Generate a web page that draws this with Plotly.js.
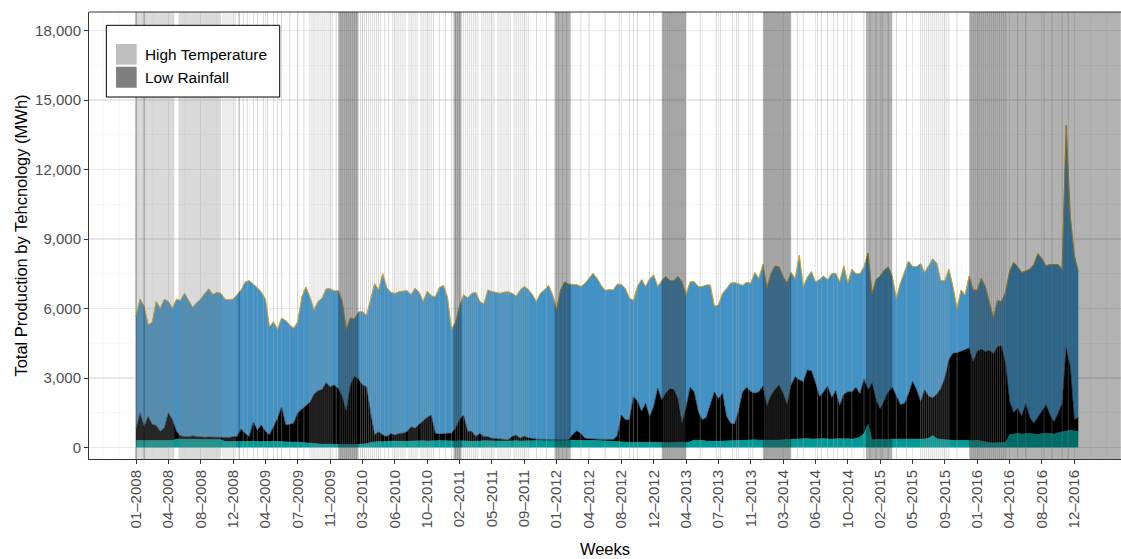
<!DOCTYPE html>
<html><head><meta charset="utf-8">
<script src="https://cdn.plot.ly/plotly-3.0.1.min.js"></script>
<style>html,body{margin:0;padding:0;background:#fff}#chart{width:1121px;height:559px}</style>
</head><body><div id="chart"></div>
<script>
// x-axis tick labels (one every 16 weeks; 52 weeks per year, week 0 = first week of 2008)
const tickLabels = ["01–2008","04–2008","08–2008","12–2008","04–2009","07–2009","11–2009","03–2010","06–2010","10–2010","02–2011","05–2011","09–2011","01–2012","04–2012","08–2012","12–2012","04–2013","07–2013","11–2013","03–2014","06–2014","10–2014","02–2015","05–2015","09–2015","01–2016","04–2016","08–2016","12–2016"];
const tickWeeks = [0,16,32,48,64,80,96,112,128,144,160,176,192,208,224,240,256,272,288,304,320,336,352,368,384,400,416,432,448,464];

// Stacked levels (MWh), sampled every second week (weeks 0,2,4,...)
// top of the whole stack (hydro on top of thermal on top of minor plants)
const totalLevel = [
5650,6400,6100,5300,5400,6300,6000,6400,6300,6000,
6400,6350,6650,6350,6050,6250,6400,6650,6850,6600,
6700,6650,6400,6380,6400,6600,6800,7150,7200,7050,
6900,6700,6400,5200,5430,5100,5590,5480,5290,5150,
5430,6500,6930,6500,5950,6300,6450,6850,6850,6760,
6770,6300,5100,5600,5550,5850,5870,5700,6400,7080,
6800,7500,6900,6700,6650,6720,6750,6770,6600,6870,
6700,6300,6750,6550,6500,6900,7000,6500,5100,5400,
6100,6600,6450,6650,6700,6300,6200,6800,6730,6700,
6655,6700,6720,6655,6530,6800,6950,6820,6600,6300,
6655,6800,7000,6600,5950,6820,7150,7050,7050,7030,
6950,7080,7300,7520,7300,7000,6780,6820,6800,7050,
7040,6850,6450,6350,6950,7250,6950,7280,7450,6950,
7200,7380,7200,7200,7380,7150,6600,7150,7160,6950,
6950,7015,7015,6100,6150,6650,6850,7090,7120,7050,
7000,7130,7100,7550,7300,7900,6900,7500,7830,7800,
7374,7100,7550,7300,8300,6950,7350,7600,7150,7250,
7400,7240,7500,7520,7150,7850,7100,7700,7500,7500,
7800,8400,6655,7250,7400,7650,7800,7374,6450,7087,
7550,8050,7810,7806,7940,7550,7850,8150,7950,7200,
7200,7700,6950,6000,6800,6583,7400,6800,6800,7300,
6950,6250,5600,6350,6300,6700,7600,8000,7800,7550,
7620,7700,7900,8370,8150,7850,7900,7900,7900,7700,
13900,10000,8300,7600];
// top of thermal (thermal stacked on minor plants)
const thermalLevel = [
800,1500,900,1350,1000,950,700,850,1500,1200,
700,500,480,470,500,470,460,440,450,440,
460,450,420,430,470,480,800,600,480,1100,
750,970,700,550,900,1260,1750,971,1000,1050,
1500,1650,1780,1950,2300,2450,2500,2800,2626,2700,
2550,2200,1550,2700,3080,2950,2700,2620,1500,550,
680,540,470,600,540,600,620,680,899,830,
1000,1150,1300,1400,600,580,611,611,611,830,
1200,1400,700,700,480,600,480,470,400,380,
360,350,340,470,540,400,500,420,380,360,
350,340,330,330,325,325,330,340,560,720,
600,400,380,360,350,350,350,340,350,500,
1400,1200,1187,2200,2000,1550,1900,1331,1763,2554,
2050,2350,2550,2500,2100,1043,1700,2600,2400,1550,
1187,1300,1850,2400,2100,2338,1350,1050,1000,1600,
2400,2600,2410,2340,2400,2650,1800,2250,2500,2700,
2340,1850,2700,3058,2914,2842,3350,3300,2800,2200,
2400,2650,2150,2450,1800,2300,2400,2400,2600,2300,
2950,2500,2770,2050,1650,2000,2400,2600,2250,1850,
1900,2300,2850,2500,1978,2500,2200,2150,2300,2550,
3000,3800,4067,4080,4150,4209,4300,3700,4150,4250,
4138,4200,4050,4350,4400,3600,2000,1500,1700,1350,
1900,1300,1050,1300,1600,1850,1403,1100,1475,1900,
4300,3500,1200,1300];
// top of minor plants (bottom layer)
const minorLevel = [
300,300,290,290,300,300,290,290,300,300,
360,360,350,360,360,350,350,360,360,350,
340,340,260,250,250,260,260,270,280,270,
260,250,250,260,270,260,240,250,240,230,
240,220,200,190,180,150,140,150,160,140,
130,140,150,140,130,140,150,160,220,250,
260,250,270,260,280,270,260,270,280,290,
280,290,280,270,290,300,290,280,270,280,
290,300,280,270,260,280,290,280,300,290,
280,280,290,300,290,280,290,300,290,310,
300,290,300,310,300,300,310,320,310,300,
290,290,300,310,300,290,280,270,260,250,
230,220,210,220,230,210,220,230,220,210,
220,200,210,220,240,230,220,250,320,330,
310,280,270,260,270,280,290,300,310,320,
300,310,320,330,320,310,330,320,310,320,
330,350,380,360,370,380,390,370,360,380,
390,370,360,380,390,400,380,370,390,450,
600,1000,330,350,340,360,350,370,360,350,
340,360,370,350,360,370,400,520,380,350,
330,320,310,300,310,300,290,300,310,280,
220,210,200,200,210,220,550,600,620,580,
600,620,580,560,600,620,600,580,640,680,
720,740,720,700];

// Flagged periods (week indices)
const highTempRanges = [[0,19],[21,42]];
const highTempWeeks = [43,44,45,46,47,48,49,53,55,58,60,63,65,68,70,72,76,80,83,86,87,88,89,90,91,92,93,94,95,96,97,99,101,102,103,104,105,106,107,108,109,111,112,113,114,115,116,117,118,119,120,121,123,125,127,128,129,130,131,132,133,135,136,137,138,139,141,142,143,144,145,146,147,150,153,156,158,159,160,162,163,164,165,166,167,168,169,171,172,173,174,175,176,177,179,180,181,182,183,184,185,187,188,189,190,191,192,193,194,198,203,209,211,213,220,232,239,244,246,248,254,261,262,263,264,265,266,267,268,269,270,271,279,287,289,295,297,298,303,305,311,312,313,314,315,316,317,318,319,320,321,322,323,327,330,337,339,342,345,347,350,354,360,363,366,369,372,376,381,388,389,390,391,392,393,394,395,396,397,398,399,400,401,402,406,413,414,415,416,417,418,419,420,421,422,423,424,425,426,427,428,429,430,436,440,449,453,458,461];
const lowRainRanges = [[100,110],[157,161],[207,215],[260,272],[310,324],[361,374],[412,487]];
const lowRainWeeks = [0,4,51];

const legendLabels = ["High Temperature","Low Rainfall"];

const weekIndex = totalLevel.map((_, i) => i * 2);
const FONT = '"Liberation Sans", Arial, Helvetica, sans-serif';

const traces = [
  {x: weekIndex, y: minorLevel, type:'scatter', mode:'lines', fill:'tozeroy',
   fillcolor:'#009b96', line:{color:'#009b96', width:0.5}, hoverinfo:'skip', showlegend:false, name:'Minor plants'},
  {x: weekIndex, y: thermalLevel, type:'scatter', mode:'lines', fill:'tonexty',
   fillcolor:'#000000', line:{color:'#000000', width:0.5}, hoverinfo:'skip', showlegend:false, name:'Thermal'},
  {x: weekIndex, y: totalLevel, type:'scatter', mode:'lines', fill:'tonexty',
   fillcolor:'#4292c6', line:{color:'#4292c6', width:0.5}, hoverinfo:'skip', showlegend:false, name:'Hydro'},
  {x: weekIndex, y: totalLevel, type:'scatter', mode:'lines',
   line:{color:'#e69f00', width:0.9}, hoverinfo:'skip', showlegend:false, name:'Wind'}
];

const shapes = [];
highTempRanges.forEach(r => shapes.push({type:'rect', xref:'x', yref:'paper', x0:r[0], x1:r[1], y0:0, y1:1,
  fillcolor:'rgba(128,128,128,0.3)', line:{width:0}, layer:'above'}));
highTempWeeks.forEach(w => shapes.push({type:'line', xref:'x', yref:'paper', x0:w, x1:w, y0:0, y1:1,
  line:{color:'rgba(160,160,160,0.5)', width:0.8}, layer:'above'}));
lowRainRanges.forEach(r => shapes.push({type:'rect', xref:'x', yref:'paper', x0:r[0], x1:r[1], y0:0, y1:1,
  fillcolor:'rgba(0,0,0,0.3)', line:{width:0}, layer:'above'}));
lowRainWeeks.forEach(w => shapes.push({type:'line', xref:'x', yref:'paper', x0:w, x1:w, y0:0, y1:1,
  line:{color:'rgba(0,0,0,0.35)', width:1}, layer:'above'}));
// top border of the panel
shapes.push({type:'line', xref:'paper', yref:'paper', x0:0, x1:1, y0:1, y1:1, line:{color:'#333333', width:1}, layer:'above'});
// legend box and keys
shapes.push({type:'rect', xref:'paper', yref:'paper', x0:0.0168, x1:0.1848, y0:0.8098, y1:0.9702,
  fillcolor:'#ffffff', line:{color:'#000000', width:1}, layer:'above'});
shapes.push({type:'rect', xref:'paper', yref:'paper', x0:0.0262, x1:0.0462, y0:0.8821, y1:0.9284,
  fillcolor:'#bfbfbf', line:{width:0}, layer:'above'});
shapes.push({type:'rect', xref:'paper', yref:'paper', x0:0.0262, x1:0.0462, y0:0.8306, y1:0.8776,
  fillcolor:'#7f7f7f', line:{width:0}, layer:'above'});

const annotations = [
  {xref:'paper', yref:'paper', x:0.0527, y:0.9049, xanchor:'left', yanchor:'middle', showarrow:false,
   text:legendLabels[0], font:{family:FONT, size:15.4, color:'#000000'}},
  {xref:'paper', yref:'paper', x:0.0527, y:0.8541, xanchor:'left', yanchor:'middle', showarrow:false,
   text:legendLabels[1], font:{family:FONT, size:15.4, color:'#000000'}}
];

const layout = {
  width:1121, height:559,
  margin:{l:89, r:0, t:12, b:100},
  paper_bgcolor:'#ffffff', plot_bgcolor:'#ffffff',
  font:{family:FONT, color:'#000000'},
  showlegend:false,
  xaxis:{
    range:[-23.25, 487.1], tickmode:'array', tickvals:tickWeeks, ticktext:tickLabels,
    tickangle:-90, tickfont:{family:FONT, size:15, color:'#4d4d4d'},
    ticks:'outside', ticklen:4, tickcolor:'#333333', tickwidth:1,
    showline:true, linecolor:'#333333', linewidth:1, zeroline:false,
    showgrid:true, gridcolor:'#e8e8e8', gridwidth:1.1,
    minor:{tickmode:'linear', tick0:0, dtick:8, showgrid:true, gridcolor:'#f2f2f2', gridwidth:0.6, ticks:''},
    title:{text:'Weeks', font:{family:FONT, size:16.5, color:'#000000'}, standoff:16},
    automargin:false
  },
  yaxis:{
    range:[-496, 18800], tickmode:'linear', tick0:0, dtick:3000, tickformat:',d',
    tickfont:{family:FONT, size:15, color:'#4d4d4d'},
    ticks:'outside', ticklen:4, tickcolor:'#333333', tickwidth:1,
    showline:true, linecolor:'#333333', linewidth:1, zeroline:false,
    showgrid:true, gridcolor:'#e8e8e8', gridwidth:1.1,
    minor:{tickmode:'linear', tick0:0, dtick:1500, showgrid:true, gridcolor:'#f2f2f2', gridwidth:0.6, ticks:''},
    title:{text:'Total Production by Tehcnology (MWh)', font:{family:FONT, size:16.5, color:'#000000'}, standoff:3},
    automargin:false
  },
  shapes:shapes,
  annotations:annotations
};

Plotly.newPlot('chart', traces, layout, {displayModeBar:false, staticPlot:true});
</script>
</body></html>
